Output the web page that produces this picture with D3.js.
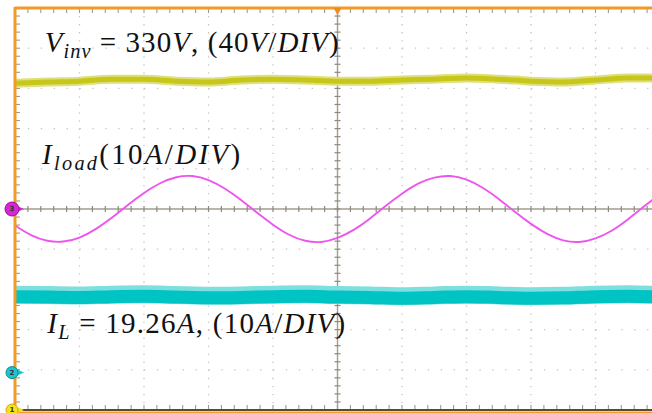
<!DOCTYPE html>
<html>
<head>
<meta charset="utf-8">
<script src="https://cdn.jsdelivr.net/npm/d3@7"></script>
<style>
  html, body { margin: 0; padding: 0; background: #fff; }
  svg { display: block; }
</style>
</head>
<body>
<div id="chart"></div>
<script>
// time axis in divisions, sampled every half / quarter division
const rippleTime = [-5, -4.5, -4, -3.5, -3, -2.5, -2, -1.5, -1, -0.5, 0, 0.5, 1, 1.5, 2, 2.5, 3, 3.5, 4, 4.5, 5];
// inverter voltage trace (divisions above centre)
const vinv = [3.13, 3.16, 3.18, 3.23, 3.23, 3.18, 3.16, 3.21, 3.23, 3.21, 3.18, 3.18, 3.21, 3.23, 3.26, 3.23, 3.18, 3.16, 3.21, 3.26, 3.26];
// inductor current trace (divisions)
const iL = [-2.18, -2.19, -2.2, -2.18, -2.17, -2.19, -2.21, -2.2, -2.18, -2.17, -2.19, -2.2, -2.22, -2.2, -2.18, -2.2, -2.22, -2.21, -2.18, -2.17, -2.19];

const loadTime = [-5, -4.75, -4.5, -4.25, -4, -3.75, -3.5, -3.25, -3, -2.75, -2.5, -2.25, -2, -1.75, -1.5, -1.25, -1, -0.75, -0.5, -0.25,
                  0, 0.25, 0.5, 0.75, 1, 1.25, 1.5, 1.75, 2, 2.25, 2.5, 2.75, 3, 3.25, 3.5, 3.75, 4, 4.25, 4.5, 4.75, 5];
const iload = [-0.41, -0.65, -0.79, -0.81, -0.71, -0.5, -0.22, 0.1, 0.4, 0.64, 0.79, 0.82, 0.72, 0.51, 0.23, -0.09, -0.39, -0.64, -0.79, -0.82,
               -0.72, -0.52, -0.24, 0.08, 0.38, 0.63, 0.78, 0.82, 0.73, 0.53, 0.25, -0.07, -0.37, -0.62, -0.78, -0.82, -0.73, -0.54, -0.26, 0.06, 0.37];

// annotation text pieces: i = italic, s = italic subscript, n = upright
const labels = [
  { t: -4.54, y: 3.9, len: 294, parts: [["V", "i"], ["inv", "s"], [" = 330", "n"], ["V", "i"], [", (40", "n"], ["V", "i"], ["/", "n"], ["DIV", "i"], [")", "n"]] },
  { t: -4.58, y: 1.12, len: 198, parts: [["I", "i"], ["load", "s"], ["(10", "n"], ["A", "i"], ["/", "n"], ["DIV", "i"], [")", "n"]] },
  { t: -4.5, y: -3.08, len: 298, parts: [["I", "i"], ["L", "s"], [" = 19.26", "n"], ["A", "i"], [", (10", "n"], ["A", "i"], ["/", "n"], ["DIV", "i"], [")", "n"]] }
];

const width = 652;
const height = 413;

const x = d3.scaleLinear().domain([-5, 5]).range([15, 660]);
const y = d3.scaleLinear().domain([-5, 5]).range([410, 8]);

const svg = d3.select("#chart")
  .append("svg")
  .attr("width", width)
  .attr("height", height)
  .attr("viewBox", [0, 0, width, height]);

const majors = d3.range(-4, 5);
const minorX = x.ticks(50);
const minorY = y.ticks(50);

// dotted graticule
const grid = svg.append("g").attr("stroke", "#c4c4c4").attr("stroke-width", 1.3);
grid.selectAll("line.v")
  .data(majors.filter(d => d !== 0))
  .join("line")
  .attr("class", "v")
  .attr("x1", d => x(d)).attr("x2", d => x(d))
  .attr("y1", y(5)).attr("y2", y(-5))
  .attr("stroke-dasharray", "1.3 6.74");
grid.selectAll("line.h")
  .data(majors.filter(d => d !== 0))
  .join("line")
  .attr("class", "h")
  .attr("y1", d => y(d)).attr("y2", d => y(d))
  .attr("x1", x(-5)).attr("x2", x(5))
  .attr("stroke-dasharray", "1.3 11.6");

// centre cross with minor ticks
const axisCol = "#a39d8f";
svg.append("line")
  .attr("x1", x(-5)).attr("x2", x(5)).attr("y1", y(0)).attr("y2", y(0))
  .attr("stroke", axisCol).attr("stroke-width", 1.4);
svg.append("line")
  .attr("x1", x(0)).attr("x2", x(0)).attr("y1", y(5)).attr("y2", y(-5))
  .attr("stroke", axisCol).attr("stroke-width", 1.4);
svg.append("g").attr("stroke", "#8f897c").attr("stroke-width", 1.2)
  .selectAll("line")
  .data(minorX)
  .join("line")
  .attr("x1", d => x(d)).attr("x2", d => x(d))
  .attr("y1", y(0) - 3).attr("y2", y(0) + 3);
svg.append("g").attr("stroke", "#8f897c").attr("stroke-width", 1.2)
  .selectAll("line")
  .data(minorY)
  .join("line")
  .attr("y1", d => y(d)).attr("y2", d => y(d))
  .attr("x1", x(0) - 3).attr("x2", x(0) + 3);

// border ticks
const edgeTicks = svg.append("g").attr("stroke", "#9a9a9a").attr("stroke-width", 1.1);
edgeTicks.selectAll("line.l")
  .data(minorY)
  .join("line")
  .attr("class", "l")
  .attr("y1", d => y(d)).attr("y2", d => y(d))
  .attr("x1", x(-5)).attr("x2", x(-5) + 5);
edgeTicks.selectAll("line.t")
  .data(minorX)
  .join("line")
  .attr("class", "t")
  .attr("x1", d => x(d)).attr("x2", d => x(d))
  .attr("y1", y(5)).attr("y2", y(5) + 5);
edgeTicks.selectAll("line.b")
  .data(minorX)
  .join("line")
  .attr("class", "b")
  .attr("x1", d => x(d)).attr("x2", d => x(d))
  .attr("y1", y(-5)).attr("y2", y(-5) - 5);

// traces
const line = d3.line().curve(d3.curveMonotoneX);
const pts = (ts, vs) => ts.map((t, i) => [x(t), y(vs[i])]);

svg.append("path")
  .attr("d", line(pts(rippleTime, vinv)))
  .attr("fill", "none").attr("stroke", "#dfe07a").attr("stroke-width", 9);
svg.append("path")
  .attr("d", line(pts(rippleTime, vinv)))
  .attr("fill", "none").attr("stroke", "#c6c61c").attr("stroke-width", 5);

svg.append("path")
  .attr("d", line(pts(rippleTime, iL)))
  .attr("transform", "translate(0,-2)")
  .attr("fill", "none").attr("stroke", "#7fdede").attr("stroke-width", 18);
svg.append("path")
  .attr("d", line(pts(rippleTime, iL)))
  .attr("fill", "none").attr("stroke", "#00c3c3").attr("stroke-width", 13);

svg.append("path")
  .attr("d", d3.line().curve(d3.curveNatural)(pts(loadTime, iload)))
  .attr("fill", "none").attr("stroke", "#ee55ee").attr("stroke-width", 1.9);

// frame
svg.append("line")
  .attr("x1", x(-5)).attr("x2", x(-5)).attr("y1", y(5) - 1).attr("y2", height)
  .attr("stroke", "#f09a28").attr("stroke-width", 3);
svg.append("line")
  .attr("x1", x(-5)).attr("x2", width).attr("y1", y(5)).attr("y2", y(5))
  .attr("stroke", "#f09a28").attr("stroke-width", 3);
svg.append("line")
  .attr("x1", x(-5)).attr("x2", width).attr("y1", y(-5) + 2.5).attr("y2", y(-5) + 2.5)
  .attr("stroke", "#f09a28").attr("stroke-width", 2);
svg.append("line")
  .attr("x1", x(-5)).attr("x2", width).attr("y1", y(-5)).attr("y2", y(-5))
  .attr("stroke", "#5e4a2a").attr("stroke-width", 2);

// trigger position marker
svg.append("path")
  .attr("d", `M${x(0) - 4},${y(5)} L${x(0) + 4},${y(5)} L${x(0)},${y(5) + 7} Z`)
  .attr("fill", "#f08a18");

// channel markers
const markers = [
  { v: 0, label: "3", fill: "#d428d4", stroke: "#9a109a", r: 7 },
  { v: -4.07, label: "2", fill: "#1cc4d0", stroke: "#0a8a98", r: 6 },
  { v: -5, label: "1", fill: "#f2e21c", stroke: "#e0a010", r: 6 }
];
const mk = svg.append("g");
markers.forEach(m => {
  const cy = y(m.v);
  mk.append("path")
    .attr("d", `M16,${cy - 3.5} L24,${cy} L16,${cy + 3.5} Z`)
    .attr("fill", m.fill);
  mk.append("circle")
    .attr("cx", 12).attr("cy", cy).attr("r", m.r)
    .attr("fill", m.fill).attr("stroke", m.stroke).attr("stroke-width", 1);
  mk.append("text")
    .attr("x", 12).attr("y", cy).attr("dy", "0.35em")
    .attr("text-anchor", "middle")
    .style("font", "bold 7px 'DejaVu Sans', sans-serif")
    .attr("fill", "#333")
    .text(m.label);
});

// annotations
const fs = 29;
labels.forEach(l => {
  const t = svg.append("text")
    .attr("x", x(l.t))
    .attr("y", y(l.y))
    .attr("textLength", l.len)
    .attr("lengthAdjust", "spacing")
    .style("font-family", "'Liberation Serif', 'Times New Roman', serif")
    .style("font-size", fs + "px")
    .attr("fill", "#111");
  let sub = false;
  l.parts.forEach(([s, k]) => {
    const ts = t.append("tspan").text(s);
    if (k === "i") ts.style("font-style", "italic");
    if (k === "s") {
      ts.style("font-style", "italic").style("font-size", (fs * 0.7) + "px").attr("dy", 6);
      sub = true;
    } else if (sub) {
      ts.attr("dy", -6);
      sub = false;
    }
  });
});
</script>
</body>
</html>
